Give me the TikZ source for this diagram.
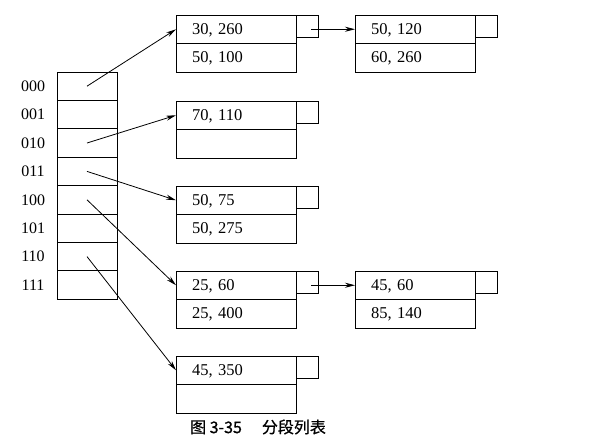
\documentclass[tikz,border=0pt]{standalone}
\usepackage{fontspec}
\setmainfont{Liberation Serif}
\newfontfamily\cjk[FakeBold=0.8]{Noto Sans CJK SC}
\usetikzlibrary{arrows.meta,positioning}
\tikzset{
  cell/.style={draw,line width=1pt,outer sep=0pt,minimum height=28.5pt,text width=104pt,inner xsep=8pt,inner ysep=0pt,align=left,font=\fontsize{16.5}{16.5}\selectfont},
  ptrbox/.style={draw,line width=1pt,outer sep=0pt,minimum width=22pt,minimum height=22pt,inner sep=0pt},
  tcell/.style={draw,line width=1pt,outer sep=0pt,minimum width=60pt,minimum height=28.4pt,inner sep=0pt},
  tlab/.style={font=\fontsize{16}{16}\selectfont},
  link/.style={line width=0.8pt,-{Stealth[length=10pt,width=5pt]}}
}
\newcommand{\myrec}[5]{%
  \node[cell,anchor=north west] (#1a) at (#2,#3) {\hspace*{8pt}\raisebox{-1.5pt}{#4}\strut};
  \node[cell,anchor=north] (#1b) at (#1a.south) {\hspace*{8pt}\raisebox{-1.5pt}{#5}\strut};
  \node[ptrbox,anchor=north west] (#1p) at (#1a.north east) {};
}
\begin{document}
\begin{tikzpicture}[x=1pt,y=-1pt]
\useasboundingbox (0,0) rectangle (590,447);
% hash table
\foreach \i/\l in {0/000,1/001,2/010,3/011,4/100,5/101,6/110,7/111}{
  \node[tcell,anchor=north west] (r\i) at (57,{72+28.4*\i}) {};
  \node[tlab] (l\i) at (33,{86.2+28.4*\i}) {\l};
}
% records
\myrec{A}{176}{15}{30, 260}{50, 100}
\myrec{B}{355}{15}{50, 120}{60, 260}
\myrec{C}{176}{101}{70, 110}{}
\myrec{D}{176}{186}{50, 75}{50, 275}
\myrec{E}{176}{271}{25, 60}{25, 400}
\myrec{F}{355}{271}{45, 60}{85, 140}
\myrec{G}{176}{356}{45, 350}{}
% links
\draw[link] (r0.center) -- (Aa.west);
\draw[link] (r2.center) -- (Ca.west);
\draw[link] (r3.center) -- (Da.west);
\draw[link] (r4.center) -- (Ea.west);
\draw[link] (r6.center) -- (Ga.west);
\draw[link] ([xshift=4pt]Ap.center |- Ba.west) -- (Ba.west);
\draw[link] ([xshift=4pt]Ep.center |- Fa.west) -- (Fa.west);
% caption
\node[font={\cjk\fontsize{16}{16}\selectfont}] (cap) at (258,427) {图 3-35\hspace{20pt}分段列表};
\end{tikzpicture}
\end{document}
